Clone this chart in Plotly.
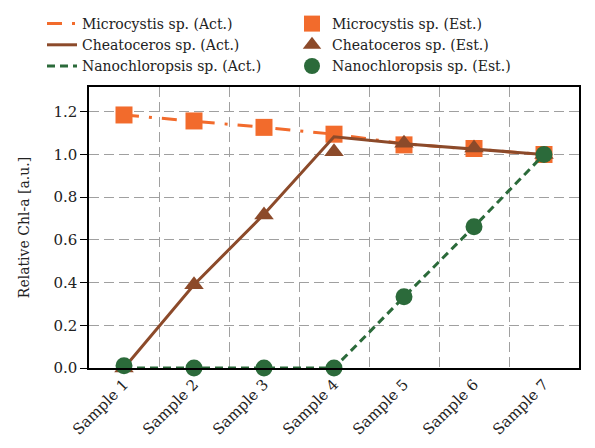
import plotly.graph_objects as go

samples = ["Sample 1", "Sample 2", "Sample 3", "Sample 4", "Sample 5", "Sample 6", "Sample 7"]

# actual (lines)
micro_act = [1.185, 1.157, 1.127, 1.095, 1.05, 1.025, 1.0]
cheat_act = [0.0, 0.39, 0.72, 1.083, 1.05, 1.025, 1.0]
nano_act = [0.0, 0.0, 0.0, 0.0, 0.333, 0.662, 1.0]

# estimated (markers)
micro_est = [1.185, 1.157, 1.127, 1.095, 1.045, 1.028, 1.0]
cheat_est = [0.0, 0.39, 0.717, 1.013, 1.052, 1.03, 1.0]
nano_est = [0.01, 0.0, 0.0, 0.0, 0.334, 0.662, 1.0]

orange = '#F26B2C'
brown = '#8C4A2A'
green = '#2B6A3A'
font = "DejaVu Serif"

fig = go.Figure()
fig.add_trace(go.Scatter(x=samples, y=micro_act, mode='lines', name='Microcystis sp. (Act.)',
                         line=dict(color=orange, width=3, dash='15px,10px,3px,10px')))
fig.add_trace(go.Scatter(x=samples, y=micro_est, mode='markers', name='Microcystis sp. (Est.)',
                         marker=dict(color=orange, symbol='square', size=17)))
fig.add_trace(go.Scatter(x=samples, y=cheat_act, mode='lines', name='Cheatoceros sp. (Act.)',
                         line=dict(color=brown, width=3)))
fig.add_trace(go.Scatter(x=samples, y=cheat_est, mode='markers', name='Cheatoceros sp. (Est.)',
                         marker=dict(color=brown, symbol='triangle-up', size=17)))
fig.add_trace(go.Scatter(x=samples, y=nano_act, mode='lines', name='Nanochloropsis sp. (Act.)',
                         line=dict(color=green, width=3, dash='8px,5px')))
fig.add_trace(go.Scatter(x=samples, y=nano_est, mode='markers', name='Nanochloropsis sp. (Est.)',
                         marker=dict(color=green, symbol='circle', size=17)))

fig.update_traces(cliponaxis=False)

# page body has an 8px margin, so margins are shifted to compensate
fig.update_layout(
    width=595, height=448,
    paper_bgcolor='white', plot_bgcolor='white',
    font=dict(family=font, size=14, color='#222222'),
    margin=dict(l=81, r=24, t=79, b=88, autoexpand=False),
    legend=dict(orientation='h', x=(34 - 81) / 490, y=1 + 79 / 281,
                xanchor='left', yanchor='top', entrywidth=205,
                font=dict(size=14), bgcolor='rgba(0,0,0,0)'),
    showlegend=True,
)
fig.update_xaxes(type='category', tickson='boundaries', tickangle=-45,
                 showgrid=True, gridcolor='#A0A0A0', griddash='10px,5px', gridwidth=1,
                 showline=True, linecolor='black', linewidth=1.5, mirror=True,
                 ticks='', range=[-0.5, 6.5], tickfont=dict(size=15))
fig.update_yaxes(range=[0, 1.316], tickvals=[0, 0.2, 0.4, 0.6, 0.8, 1.0, 1.2],
                 tickformat='.1f', showgrid=True, gridcolor='#A0A0A0', griddash='10px,5px',
                 gridwidth=1, zeroline=False,
                 showline=True, linecolor='black', linewidth=1.5, mirror=True,
                 ticks='outside', ticklen=7, tickcolor='black',
                 title=dict(text='Relative Chl-a [a.u.]', font=dict(size=14), standoff=20),
                 tickfont=dict(size=15))

fig.write_html("out.html")
